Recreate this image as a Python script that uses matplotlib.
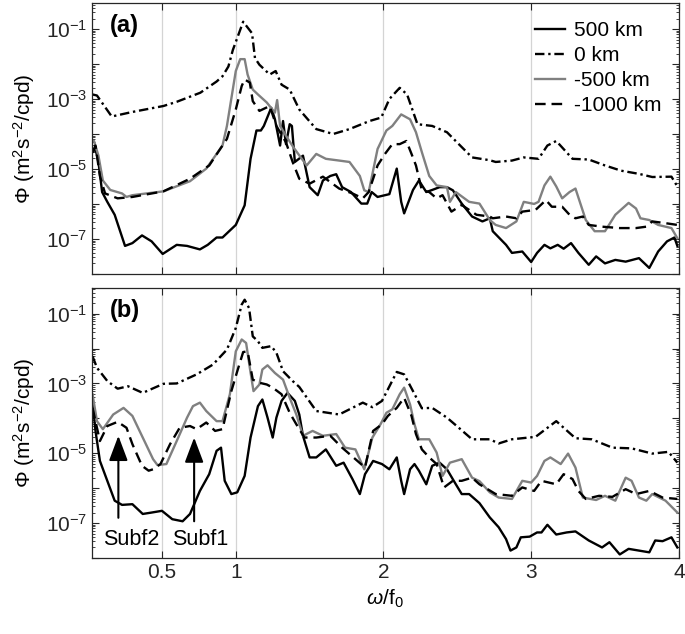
#!/usr/bin/env python3
"""Spektra Φ(ω/f0) för fyra avstånd, panel (a) och (b), log-skala."""

import numpy as np
import matplotlib
matplotlib.use("Agg")
import matplotlib.pyplot as plt
from matplotlib.ticker import LogLocator, FuncFormatter, NullFormatter

plt.rcParams["font.family"] = ["Liberation Sans", "DejaVu Sans"]
plt.rcParams["mathtext.fontset"] = "custom"
plt.rcParams["mathtext.rm"] = "Liberation Sans"
plt.rcParams["mathtext.it"] = "Liberation Sans:italic"

# ---- data (log10 Φ) ----
LABELS = ["500 km", "0 km", "-500 km", "-1000 km"]

# panel (a)
a_500_x = [0.03, 0.05, 0.07, 0.095, 0.13, 0.18, 0.25, 0.3, 0.365, 0.43, 0.505, 0.6, 0.67, 0.757, 0.81, 0.87,
           0.91, 1.0, 1.06, 1.1, 1.14, 1.17, 1.19, 1.24, 1.265, 1.3, 1.32, 1.34, 1.365, 1.38, 1.4, 1.455, 1.5,
           1.555, 1.59, 1.64, 1.68, 1.72, 1.78, 1.85, 1.89, 1.92, 1.96, 2.04, 2.09, 2.12, 2.14, 2.2, 2.24, 2.29,
           2.33, 2.38, 2.43, 2.47, 2.53, 2.6, 2.67, 2.72, 2.74, 2.83, 2.87, 2.94, 3.0, 3.04, 3.09, 3.13, 3.18,
           3.22, 3.27, 3.32, 3.39, 3.44, 3.5, 3.57, 3.64, 3.73, 3.8, 3.86, 3.92, 3.97, 3.99]
a_500_y = [-4.52, -4.43, -4.8, -5.66, -5.94, -6.31, -7.2, -7.12, -6.9, -7.07, -7.43, -7.17, -7.2, -7.3, -7.17,
           -6.96, -6.96, -6.6, -6.04, -4.71, -3.9, -3.9, -3.77, -3.25, -3.58, -4.33, -3.63, -4.29, -3.72, -3.77,
           -4.8, -4.62, -5.52, -5.75, -5.33, -5.2, -5.15, -5.52, -5.66, -5.99, -5.99, -5.66, -5.8, -5.72, -4.99,
           -5.94, -6.27, -5.6, -5.33, -5.66, -5.6, -5.52, -5.52, -5.61, -5.99, -6.36, -6.5, -6.41, -6.78, -7.17,
           -7.4, -7.36, -7.66, -7.4, -7.17, -7.27, -7.17, -7.28, -7.12, -7.4, -7.74, -7.5, -7.7, -7.6, -7.65,
           -7.55, -7.83, -7.36, -7.07, -6.96, -7.2]

a_0_x = [0.03, 0.06, 0.16, 0.3, 0.51, 0.6, 0.76, 0.87, 0.91, 0.95, 0.98, 1.05, 1.11, 1.13, 1.16, 1.23, 1.27,
         1.31, 1.365, 1.43, 1.545, 1.66, 1.77, 1.905, 1.985, 2.04, 2.11, 2.16, 2.23, 2.33, 2.43, 2.51, 2.6,
         2.72, 2.76, 2.87, 2.95, 3.05, 3.11, 3.17, 3.28, 3.39, 3.5, 3.61, 3.73, 3.82, 3.95, 3.99]
a_0_y = [-2.87, -2.9, -3.5, -3.37, -3.2, -3.08, -2.82, -2.5, -2.35, -2.07, -1.6, -0.79, -1.12, -1.83, -2.02,
         -2.3, -2.2, -2.59, -2.73, -3.3, -3.86, -4.0, -3.86, -3.63, -3.53, -3.0, -2.68, -2.87, -3.72, -3.77,
         -3.95, -4.29, -4.67, -4.75, -4.8, -4.76, -4.67, -4.71, -4.33, -4.2, -4.71, -4.73, -4.9, -5.05, -5.14,
         -5.23, -5.22, -5.5]

a_m500_x = [0.03, 0.04, 0.07, 0.1, 0.15, 0.23, 0.26, 0.3, 0.51, 0.69, 0.8, 0.91, 0.94, 1.0, 1.03, 1.06, 1.08,
            1.115, 1.15, 1.21, 1.265, 1.28, 1.3, 1.34, 1.39, 1.48, 1.545, 1.61, 1.7, 1.77, 1.84, 1.87, 1.9, 1.96,
            2.02, 2.06, 2.12, 2.18, 2.22, 2.26, 2.31, 2.36, 2.43, 2.45, 2.49, 2.58, 2.65, 2.72, 2.76, 2.83, 2.9,
            2.95, 3.02, 3.05, 3.09, 3.13, 3.17, 3.21, 3.26, 3.3, 3.37, 3.43, 3.5, 3.57, 3.66, 3.71, 3.74, 3.8,
            3.86, 3.95, 3.99]
a_m500_y = [-4.2, -4.2, -4.62, -5.33, -5.6, -5.7, -5.8, -5.75, -5.64, -5.35, -4.99, -4.33, -3.77, -2.2, -1.86,
            -1.86, -2.3, -2.73, -2.87, -3.1, -3.39, -3.03, -3.77, -4.05, -4.38, -4.9, -4.57, -4.71, -4.76, -4.8,
            -5.2, -5.61, -5.66, -4.43, -3.9, -3.77, -3.44, -3.58, -3.95, -4.52, -5.2, -5.47, -5.52, -5.94, -5.66,
            -5.94, -5.99, -6.46, -6.6, -6.69, -6.5, -5.94, -6.0, -5.94, -5.47, -5.22, -5.5, -5.84, -5.66, -5.56,
            -6.46, -6.78, -6.78, -6.31, -5.97, -6.13, -6.41, -6.46, -6.6, -6.69, -6.98]

a_m1000_x = [0.03, 0.05, 0.08, 0.115, 0.2, 0.3, 0.51, 0.69, 0.82, 0.94, 1.0, 1.04, 1.06, 1.095, 1.115, 1.16,
             1.23, 1.275, 1.34, 1.385, 1.43, 1.5, 1.59, 1.7, 1.79, 1.86, 1.9, 1.96, 2.01, 2.06, 2.11, 2.155, 2.19,
             2.22, 2.26, 2.31, 2.36, 2.4, 2.46, 2.53, 2.63, 2.72, 2.74, 2.83, 2.9, 2.94, 3.03, 3.1, 3.14, 3.21,
             3.26, 3.3, 3.35, 3.39, 3.48, 3.6, 3.71, 3.78, 3.82, 3.91, 3.99]
a_m1000_y = [-4.52, -4.33, -5.2, -5.7, -5.84, -5.8, -5.64, -5.28, -4.9, -4.14, -3.3, -2.63, -2.44, -2.53, -3.06,
             -3.34, -3.2, -3.77, -4.24, -4.8, -5.28, -5.42, -5.22, -5.56, -5.7, -5.84, -5.66, -4.9, -4.57, -4.29,
             -4.29, -4.2, -4.57, -4.9, -5.61, -5.66, -5.84, -5.75, -6.22, -6.03, -6.31, -6.36, -6.41, -6.36, -6.41,
             -6.22, -6.17, -5.89, -6.08, -6.08, -6.31, -6.41, -6.36, -6.6, -6.65, -6.69, -6.69, -6.65, -6.5, -6.55,
             -6.6]

# panel (b)
b_500_x = [0.03, 0.05, 0.08, 0.13, 0.18, 0.23, 0.3, 0.37, 0.43, 0.5, 0.57, 0.64, 0.69, 0.757, 0.82, 0.87, 0.9,
           0.925, 0.97, 1.01, 1.06, 1.1, 1.15, 1.18, 1.215, 1.25, 1.275, 1.31, 1.35, 1.4, 1.43, 1.455, 1.5,
           1.545, 1.61, 1.68, 1.73, 1.79, 1.84, 1.875, 1.93, 1.99, 2.04, 2.09, 2.12, 2.14, 2.18, 2.21, 2.24,
           2.29, 2.33, 2.38, 2.43, 2.49, 2.53, 2.58, 2.65, 2.72, 2.78, 2.83, 2.86, 2.9, 2.93, 2.99, 3.04, 3.07,
           3.11, 3.17, 3.24, 3.3, 3.39, 3.48, 3.53, 3.6, 3.66, 3.73, 3.8, 3.84, 3.89, 3.95, 3.99]
b_500_y = [-3.5, -4.36, -5.22, -5.79, -6.36, -6.48, -6.46, -6.74, -6.7, -6.65, -6.89, -6.95, -6.74, -6.08, -5.6,
           -4.93, -4.84, -5.79, -6.17, -6.12, -5.65, -4.55, -3.65, -3.46, -3.98, -4.55, -3.98, -3.5, -3.27, -3.5,
           -3.89, -4.5, -5.12, -5.12, -4.89, -5.36, -5.27, -5.74, -6.17, -5.6, -5.22, -5.31, -5.46, -5.12, -5.79,
           -6.17, -5.46, -5.31, -5.5, -5.89, -5.36, -5.27, -5.46, -5.89, -6.17, -6.17, -6.43, -6.84, -7.12, -7.46,
           -7.79, -7.7, -7.41, -7.39, -7.27, -7.27, -7.05, -7.33, -7.27, -7.24, -7.5, -7.7, -7.55, -7.9, -7.74,
           -7.79, -7.84, -7.5, -7.52, -7.41, -7.7]

b_0_x = [0.03, 0.06, 0.13, 0.2, 0.27, 0.37, 0.51, 0.6, 0.735, 0.845, 0.94, 1.0, 1.04, 1.06, 1.09, 1.115, 1.15,
         1.18, 1.24, 1.275, 1.32, 1.385, 1.43, 1.545, 1.7, 1.86, 1.925, 1.99, 2.09, 2.14, 2.2, 2.26, 2.33, 2.43,
         2.51, 2.6, 2.72, 2.78, 2.87, 3.03, 3.17, 3.3, 3.41, 3.55, 3.68, 3.82, 3.93, 3.99]
b_0_y = [-2.22, -2.55, -2.93, -3.15, -3.08, -3.27, -3.01, -3.0, -2.74, -2.46, -2.03, -1.41, -0.74, -0.6, -0.84,
         -1.65, -1.79, -1.98, -1.93, -2.12, -2.65, -2.93, -3.1, -3.79, -3.89, -3.55, -3.68, -3.5, -2.67, -2.74,
         -3.22, -3.71, -3.7, -3.98, -4.27, -4.6, -4.6, -4.72, -4.6, -4.53, -4.08, -4.57, -4.6, -4.84, -4.86,
         -5.01, -4.96, -5.27]

b_m500_x = [0.03, 0.06, 0.1, 0.17, 0.24, 0.3, 0.37, 0.44, 0.47, 0.53, 0.6, 0.67, 0.71, 0.757, 0.8, 0.87, 0.91,
            0.96, 1.0, 1.04, 1.07, 1.095, 1.12, 1.16, 1.18, 1.215, 1.265, 1.32, 1.365, 1.41, 1.455, 1.52, 1.59,
            1.68, 1.74, 1.81, 1.87, 1.925, 1.98, 2.02, 2.06, 2.11, 2.14, 2.18, 2.21, 2.24, 2.31, 2.36, 2.4, 2.45,
            2.49, 2.53, 2.6, 2.65, 2.72, 2.78, 2.87, 2.94, 3.0, 3.04, 3.09, 3.13, 3.2, 3.25, 3.3, 3.35, 3.44, 3.5,
            3.57, 3.64, 3.68, 3.73, 3.78, 3.82, 3.91, 3.99]
b_m500_y = [-3.31, -4.08, -4.31, -3.89, -3.7, -3.93, -4.55, -5.17, -5.34, -5.31, -4.65, -3.98, -3.65, -3.55,
            -3.79, -4.08, -4.08, -3.31, -2.08, -1.74, -1.84, -2.55, -3.22, -3.03, -2.6, -2.48, -2.7, -2.89, -3.41,
            -3.89, -4.5, -4.36, -4.5, -4.45, -4.84, -4.89, -5.46, -4.55, -4.17, -3.84, -3.74, -3.31, -3.12, -3.6,
            -4.17, -4.6, -4.6, -4.98, -5.65, -5.27, -5.22, -5.17, -5.7, -5.8, -6.12, -6.27, -6.31, -5.79, -5.84,
            -5.65, -5.22, -5.12, -5.31, -5.01, -5.41, -6.27, -6.34, -6.22, -6.36, -5.7, -5.79, -6.27, -6.36, -6.17,
            -6.36, -6.7]

b_m1000_x = [0.03, 0.08, 0.13, 0.2, 0.26, 0.3, 0.365, 0.41, 0.44, 0.49, 0.555, 0.62, 0.69, 0.735, 0.8, 0.86,
             0.91, 0.97, 1.01, 1.05, 1.08, 1.115, 1.16, 1.21, 1.25, 1.31, 1.365, 1.41, 1.465, 1.545, 1.64, 1.72,
             1.81, 1.875, 1.93, 1.99, 2.03, 2.09, 2.14, 2.19, 2.22, 2.26, 2.31, 2.36, 2.41, 2.47, 2.53, 2.6, 2.65,
             2.76, 2.87, 2.94, 3.02, 3.07, 3.12, 3.17, 3.22, 3.28, 3.32, 3.37, 3.46, 3.55, 3.64, 3.71, 3.8, 3.89,
             3.99]
b_m1000_y = [-3.7, -4.65, -4.22, -4.1, -4.27, -4.74, -5.36, -5.5, -5.46, -5.31, -4.74, -4.27, -4.22, -4.31,
             -4.12, -4.36, -4.31, -3.22, -2.65, -2.1, -2.08, -2.89, -2.98, -3.03, -3.12, -3.31, -3.84, -4.17, -4.55,
             -4.55, -4.5, -4.84, -5.17, -5.41, -4.36, -4.17, -3.93, -3.7, -3.41, -3.93, -4.45, -4.89, -5.12, -5.31,
             -5.98, -5.79, -5.79, -5.7, -5.89, -6.17, -6.22, -5.98, -6.08, -5.79, -5.84, -5.89, -5.6, -5.74, -6.08,
             -6.31, -6.22, -6.25, -6.03, -6.17, -6.08, -6.27, -6.31]

# pilar i panel (b)
arrow_names = ["Subf2", "Subf1"]
arrow_x = [0.205, 0.718]
arrow_tip = [-4.5, -4.55]
arrow_tail = [-6.85, -6.95]
arrow_text_x = [0.29, 0.757]
arrow_text_y = -7.48

XTICKS = [0.5, 1, 2, 3, 4]
XLIM = (0.025, 4.0)
YLIM = (1e-8, 0.55)

STYLES = [
    dict(color="black", lw=1.7, ls="-"),
    dict(color="black", lw=1.7, ls=(0, (4.0, 1.6, 1.0, 1.6))),
    dict(color="#808080", lw=1.7, ls="-"),
    dict(color="black", lw=1.7, ls=(0, (4.5, 2.5))),
]


def y_label_fmt(v, pos):
    # bara udda exponenter får etikett, som i originalet
    e = int(round(np.log10(v)))
    return rf"$10^{{{e}}}$" if e % 2 else ""


def style_axes(ax, show_xlabels):
    ax.set_yscale("log")
    ax.set_xlim(*XLIM)
    ax.set_ylim(*YLIM)
    ax.set_xticks(XTICKS)
    ax.set_xticklabels([f"{t:g}" for t in XTICKS])
    ax.xaxis.grid(True, color="#d4d4d4", lw=0.9)
    ax.set_axisbelow(True)
    ax.yaxis.set_major_locator(LogLocator(base=10, numticks=20))
    ax.yaxis.set_major_formatter(FuncFormatter(y_label_fmt))
    ax.yaxis.set_minor_locator(LogLocator(base=10, subs=np.arange(2, 10), numticks=20))
    ax.yaxis.set_minor_formatter(NullFormatter())
    ax.tick_params(which="both", direction="in", top=True, right=True, labelsize=15, colors="#262626",
                   labelbottom=show_xlabels)
    ax.tick_params(which="major", length=5)
    ax.tick_params(which="minor", length=2.5)
    for sp in ax.spines.values():
        sp.set_color("#262626")
        sp.set_linewidth(0.9)
    ax.set_ylabel(r"$\Phi$ (m$^2$s$^{-2}$/cpd)", fontsize=15, labelpad=6)


def draw_panel(ax, series, tag):
    for (x, y), st, lab in zip(series, STYLES, LABELS):
        ax.plot(x, np.power(10.0, y), label=lab, **st)
    ax.text(0.03, 0.96, tag, transform=ax.transAxes, fontsize=17, fontweight="bold", va="top", ha="left")


def main():
    fig = plt.figure(figsize=(6.85, 6.34), dpi=100)
    ax_a = fig.add_axes([0.134, 0.568, 0.857, 0.427])
    ax_b = fig.add_axes([0.134, 0.120, 0.857, 0.426])

    draw_panel(ax_a, [(a_500_x, a_500_y), (a_0_x, a_0_y), (a_m500_x, a_m500_y), (a_m1000_x, a_m1000_y)], "(a)")
    draw_panel(ax_b, [(b_500_x, b_500_y), (b_0_x, b_0_y), (b_m500_x, b_m500_y), (b_m1000_x, b_m1000_y)], "(b)")

    style_axes(ax_a, show_xlabels=False)
    style_axes(ax_b, show_xlabels=True)

    ax_a.legend(loc="upper right", frameon=False, fontsize=15, handlelength=1.45, handletextpad=0.4,
                labelspacing=0.29, borderaxespad=0.45, borderpad=0.4)

    for name, xa, tip, tail, tx in zip(arrow_names, arrow_x, arrow_tip, arrow_tail, arrow_text_x):
        ax_b.annotate("", xy=(xa, 10 ** tip), xytext=(xa, 10 ** tail),
                      arrowprops=dict(arrowstyle="-|>,head_length=0.85,head_width=0.32", color="black",
                                      lw=1.5, mutation_scale=18, shrinkA=0, shrinkB=0))
        ax_b.text(tx, 10 ** arrow_text_y, name, fontsize=15.5, ha="center", va="center")

    ax_b.set_xlabel(r"$\omega$/f$_0$", fontsize=15, labelpad=4)

    fig.savefig("out.png", dpi=100)
    plt.close(fig)


if __name__ == "__main__":
    main()
